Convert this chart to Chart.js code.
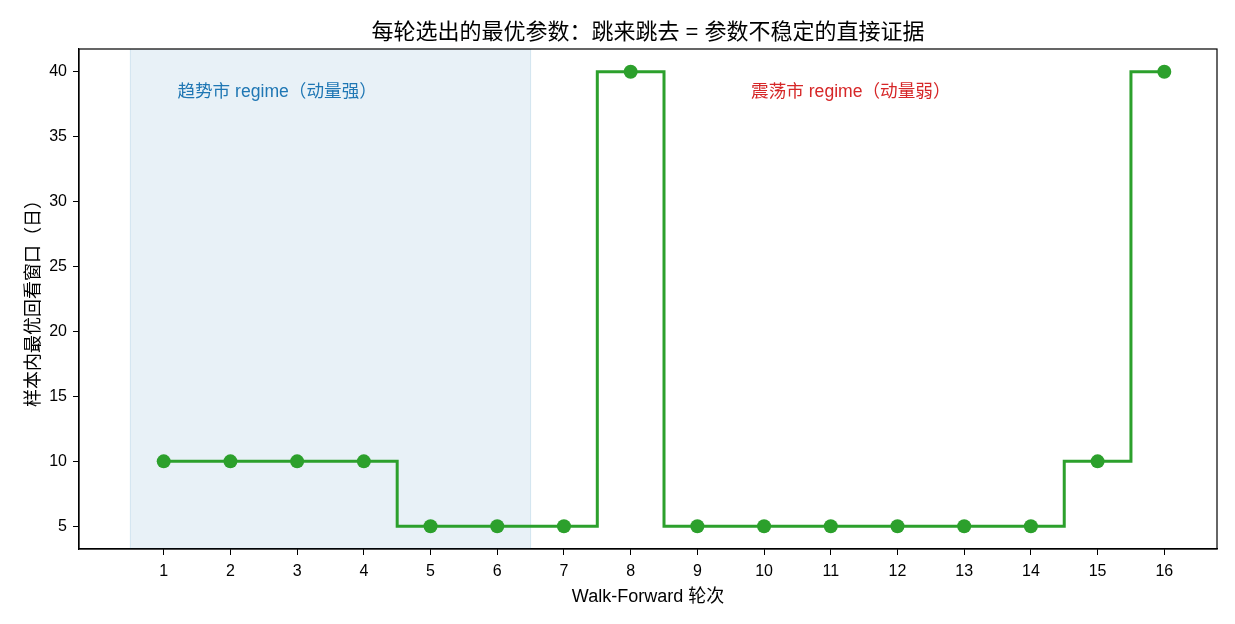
<!DOCTYPE html>
<html>
<head>
<meta charset="utf-8">
<script src="https://cdn.jsdelivr.net/npm/chart.js@4/dist/chart.umd.min.js"></script>
<style>
  html, body { margin: 0; padding: 0; background: #fff; }
  #wrap { width: 1235px; height: 624px; }
</style>
</head>
<body>
<div id="wrap"><canvas id="stepChart" width="1235" height="624"></canvas></div>
<script>
// data
const rounds = [1, 2, 3, 4, 5, 6, 7, 8, 9, 10, 11, 12, 13, 14, 15, 16];
const bestLookback = [10, 10, 10, 10, 5, 5, 5, 40, 5, 5, 5, 5, 5, 5, 10, 40];
const xTickVals = [1, 2, 3, 4, 5, 6, 7, 8, 9, 10, 11, 12, 13, 14, 15, 16];
const yTickVals = [5, 10, 15, 20, 25, 30, 35, 40];
const trendSpan = [0.5, 6.5];
const noteTexts = ["趋势市 regime（动量强）", "震荡市 regime（动量弱）"];
const noteX = [2.7, 11.3];
const noteY = [38.45, 38.45];
const noteColors = ["#1f77b4", "#d62728"];

const FONT = "'Liberation Sans', 'Noto Sans CJK SC', sans-serif";

// shaded regime band + spine box + text labels
const decor = {
  id: 'decor',
  beforeDatasetsDraw(chart) {
    const {ctx, chartArea: a, scales: {x, y}} = chart;
    const x0 = x.getPixelForValue(trendSpan[0]);
    const x1 = x.getPixelForValue(trendSpan[1]);
    ctx.save();
    ctx.fillStyle = 'rgba(31,119,180,0.1)';
    ctx.fillRect(x0, a.top, x1 - x0, a.bottom - a.top);
    ctx.strokeStyle = 'rgba(31,119,180,0.15)';
    ctx.lineWidth = 1;
    ctx.beginPath();
    ctx.moveTo(x0, a.top); ctx.lineTo(x0, a.bottom);
    ctx.moveTo(x1, a.top); ctx.lineTo(x1, a.bottom);
    ctx.stroke();
    ctx.font = "17.6px " + FONT;
    ctx.textAlign = 'center';
    ctx.textBaseline = 'middle';
    for (let i = 0; i < noteTexts.length; i++) {
      ctx.fillStyle = noteColors[i];
      ctx.fillText(noteTexts[i], x.getPixelForValue(noteX[i]), y.getPixelForValue(noteY[i]));
    }
    ctx.restore();
  },
  afterDraw(chart) {
    const {ctx, chartArea: a} = chart;
    ctx.save();
    ctx.strokeStyle = '#000';
    ctx.lineWidth = 1.2;
    ctx.strokeRect(a.left, a.top, a.right - a.left, a.bottom - a.top);
    ctx.restore();
  }
};

new Chart(document.getElementById('stepChart'), {
  type: 'line',
  data: {
    datasets: [{
      label: 'best lookback',
      data: rounds.map((r, i) => ({x: r, y: bestLookback[i]})),
      stepped: 'middle',
      borderColor: '#2ca02c',
      backgroundColor: '#2ca02c',
      borderWidth: 3,
      pointRadius: 7,
      pointBorderWidth: 0,
      pointBackgroundColor: '#2ca02c',
      fill: false
    }]
  },
  options: {
    responsive: false,
    animation: false,
    layout: { padding: { left: 0, right: 18, top: 0, bottom: 0 } },
    plugins: {
      legend: { display: false },
      tooltip: { enabled: false },
      title: {
        display: true,
        text: '每轮选出的最优参数：跳来跳去 = 参数不稳定的直接证据',
        color: '#000',
        font: { family: FONT, size: 22, weight: 'normal' },
        padding: { top: 20, bottom: 2.6 },
        fullSize: false
      }
    },
    scales: {
      x: {
        type: 'linear',
        min: -0.27,
        max: 16.79,
        afterBuildTicks: s => { s.ticks = xTickVals.map(v => ({value: v})); },
        afterFit: s => { s.height = 75; },
        grid: { drawOnChartArea: false, drawTicks: true, tickLength: 6, color: '#000', tickWidth: 1 },
        border: { display: true, color: '#000', width: 1.2 },
        ticks: { color: '#000', font: { family: FONT, size: 16 }, padding: 7, maxRotation: 0, autoSkip: false },
        title: {
          display: true,
          text: 'Walk-Forward 轮次',
          color: '#000',
          font: { family: FONT, size: 18 },
          padding: { top: 4, bottom: 16 }
        }
      },
      y: {
        min: 3.25,
        max: 41.75,
        afterBuildTicks: s => { s.ticks = yTickVals.map(v => ({value: v})); },
        afterFit: s => { s.width = 79; },
        grid: { drawOnChartArea: false, drawTicks: true, tickLength: 6, color: '#000', tickWidth: 1 },
        border: { display: true, color: '#000', width: 1.2 },
        ticks: { color: '#000', font: { family: FONT, size: 16 }, padding: 6 },
        title: {
          display: true,
          text: '样本内最优回看窗口（日）',
          color: '#000',
          font: { family: FONT, size: 18 },
          padding: { top: 23, bottom: 4 }
        }
      }
    }
  },
  plugins: [decor]
});
</script>
</body>
</html>
